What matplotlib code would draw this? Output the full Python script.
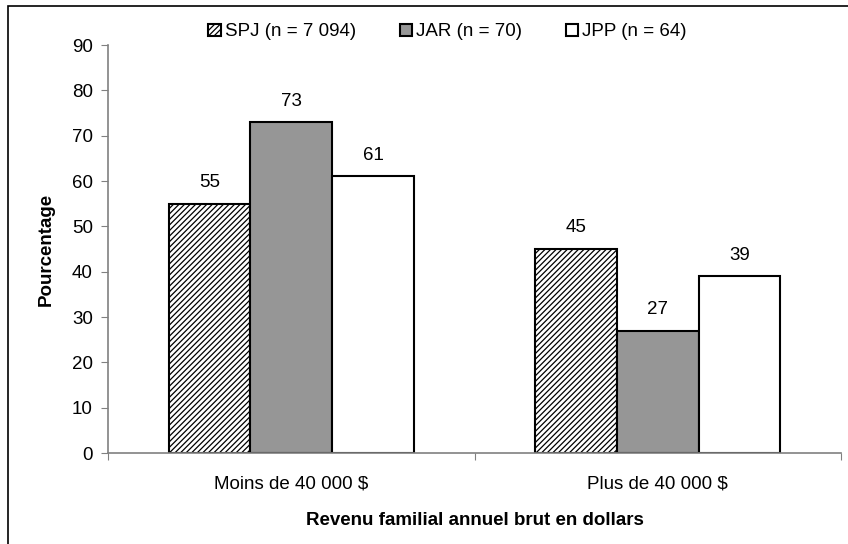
import matplotlib
matplotlib.use("Agg")
import matplotlib.pyplot as plt
import numpy as np
from matplotlib.patches import Rectangle

plt.rcParams['font.family'] = ['Liberation Sans', 'DejaVu Sans']
plt.rcParams['hatch.linewidth'] = 0.9

categories = ['Moins de 40 000 $', 'Plus de 40 000 $']
series_names = ['SPJ (n = 7 094)', 'JAR (n = 70)', 'JPP (n = 64)']
spj = [55, 45]
jar = [73, 27]
jpp = [61, 39]
yticks = [0, 10, 20, 30, 40, 50, 60, 70, 80, 90]

FS = 13.5


def main():
    fig = plt.figure(figsize=(8.48, 5.44), dpi=100)
    ax = fig.add_axes([108 / 848, 1 - 453 / 544, 733 / 848, 408 / 544])

    x = np.arange(len(categories))
    w = 0.223
    styles = [dict(facecolor='white', hatch='//////'),
              dict(facecolor='#969696'),
              dict(facecolor='white')]
    for i, (vals, st) in enumerate(zip([spj, jar, jpp], styles)):
        bars = ax.bar(x + (i - 1) * w, vals, w, edgecolor='black',
                      linewidth=1.5, label=series_names[i], **st)
        for b, v in zip(bars, vals):
            ax.annotate(str(v), (b.get_x() + b.get_width() / 2, v),
                        xytext=(0, 9), textcoords='offset points',
                        ha='center', va='bottom', fontsize=FS)

    ax.set_xlim(-0.5, 1.5)
    ax.set_ylim(0, 90)
    ax.set_yticks(yticks)
    ax.set_xticks([-0.5, 0.5, 1.5], minor=False)
    ax.set_xticklabels([])
    ax.set_xticks(x, minor=True)
    ax.set_xticklabels(categories, minor=True, fontsize=FS)
    ax.tick_params(axis='x', which='minor', length=0, pad=16)
    ax.tick_params(axis='x', which='major', length=5, color='#808080', direction='out')
    ax.tick_params(axis='y', length=5, color='#808080', labelsize=FS, pad=6)
    for s in ['top', 'right']:
        ax.spines[s].set_visible(False)
    for s in ['left', 'bottom']:
        ax.spines[s].set_color('#808080')
        ax.spines[s].set_linewidth(1.2)

    ax.set_ylabel('Pourcentage', fontsize=FS, fontweight='bold', labelpad=12)
    ax.set_xlabel('Revenu familial annuel brut en dollars', fontsize=FS,
                  fontweight='bold', labelpad=14)

    fig.legend(loc='center', bbox_to_anchor=(0.528, 1 - 32 / 544), ncol=3,
               frameon=False, fontsize=FS, handlelength=0.65, handleheight=0.65,
               handletextpad=0.25, columnspacing=2.3)

    fig.patches.append(Rectangle((8 / 848, -0.1), 1.2, 1.1 - 6 / 544,
                                 transform=fig.transFigure, fill=False,
                                 edgecolor='black', linewidth=1.2))
    fig.savefig('out.png', dpi=100)


if __name__ == "__main__":
    main()
